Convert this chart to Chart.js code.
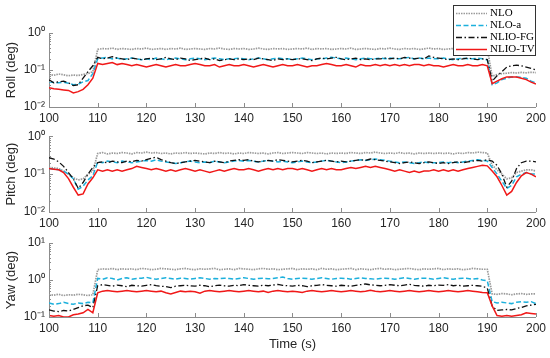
<!DOCTYPE html>
<html>
<head>
<meta charset="utf-8">
<script src="https://cdn.jsdelivr.net/npm/chart.js@4.4.0/dist/chart.umd.min.js"></script>
<style>
    body { margin: 0; background: #fff; width: 550px; height: 358px; overflow: hidden; position: relative; }
    canvas { position: absolute; left: 0; }
</style>
</head>
<body>
<canvas id="rollChart" width="550" height="125" style="top:0px"></canvas>
<canvas id="pitchChart" width="550" height="105" style="top:125px"></canvas>
<canvas id="yawChart" width="550" height="128" style="top:230px"></canvas>
<script>
// sample times (s), one per second
const times = [];
for (let t = 100; t <= 200; t++) times.push(t);

const seriesNames = ['NLO', 'NLO-a', 'NLIO-FG', 'NLIO-TV'];
const xTicks = [100, 110, 120, 130, 140, 150, 160, 170, 180, 190, 200];

// Roll (deg)
const rollNLO = [
    0.075, 0.072, 0.078, 0.074, 0.07, 0.073, 0.071, 0.076, 0.08, 0.09,
    0.36, 0.38, 0.37, 0.39, 0.36, 0.38, 0.37, 0.36, 0.38, 0.37,
    0.39, 0.36, 0.37, 0.38, 0.36, 0.38, 0.37, 0.39, 0.36, 0.37,
    0.38, 0.37, 0.36, 0.38, 0.37, 0.39, 0.37, 0.36, 0.38, 0.37,
    0.38, 0.36, 0.37, 0.39, 0.37, 0.36, 0.38, 0.37, 0.38, 0.36,
    0.37, 0.38, 0.37, 0.39, 0.36, 0.38, 0.37, 0.38, 0.36, 0.37,
    0.38, 0.37, 0.39, 0.36, 0.37, 0.38, 0.37, 0.36, 0.38, 0.37,
    0.39, 0.37, 0.36, 0.38, 0.37, 0.38, 0.36, 0.37, 0.39, 0.37,
    0.38, 0.36, 0.37, 0.38, 0.37, 0.36, 0.38, 0.37, 0.38, 0.36,
    0.37, 0.068, 0.075, 0.08, 0.082, 0.085, 0.083, 0.086, 0.084, 0.087, 0.085
];
const rollNLOa = [
    0.048, 0.046, 0.045, 0.047, 0.044, 0.04, 0.041, 0.048, 0.052, 0.08,
    0.2, 0.21, 0.22, 0.2, 0.21, 0.19, 0.2, 0.21, 0.2, 0.19,
    0.2, 0.19, 0.21, 0.2, 0.19, 0.2, 0.21, 0.2, 0.19, 0.2,
    0.21, 0.2, 0.19, 0.2, 0.21, 0.2, 0.19, 0.2, 0.2, 0.21,
    0.2, 0.19, 0.2, 0.21, 0.2, 0.19, 0.2, 0.21, 0.2, 0.2,
    0.19, 0.2, 0.21, 0.2, 0.19, 0.2, 0.2, 0.21, 0.22, 0.21,
    0.2, 0.21, 0.2, 0.19, 0.2, 0.21, 0.2, 0.2, 0.21, 0.2,
    0.21, 0.2, 0.2, 0.21, 0.22, 0.2, 0.21, 0.2, 0.21, 0.2,
    0.2, 0.21, 0.2, 0.19, 0.2, 0.21, 0.2, 0.2, 0.21, 0.2,
    0.19, 0.04, 0.045, 0.055, 0.06, 0.065, 0.065, 0.063, 0.06, 0.05, 0.045
];
const rollNLIOFG = [
    0.054, 0.045, 0.048, 0.05, 0.045, 0.038, 0.04, 0.06, 0.09, 0.13,
    0.22, 0.2, 0.21, 0.23, 0.21, 0.2, 0.19, 0.21, 0.2, 0.19,
    0.2, 0.21, 0.19, 0.2, 0.22, 0.2, 0.19, 0.21, 0.2, 0.18,
    0.19, 0.2, 0.21, 0.19, 0.2, 0.18, 0.19, 0.2, 0.19, 0.2,
    0.19, 0.2, 0.19, 0.21, 0.2, 0.19, 0.18, 0.2, 0.19, 0.2,
    0.19, 0.2, 0.2, 0.19, 0.18, 0.2, 0.21, 0.2, 0.21, 0.22,
    0.2, 0.19, 0.2, 0.21, 0.19, 0.2, 0.19, 0.2, 0.2, 0.21,
    0.2, 0.21, 0.2, 0.22, 0.21, 0.2, 0.21, 0.2, 0.24, 0.22,
    0.21, 0.2, 0.19, 0.2, 0.19, 0.2, 0.21, 0.2, 0.19, 0.2,
    0.19, 0.05, 0.07, 0.09, 0.12, 0.13, 0.135, 0.13, 0.12, 0.11, 0.1
];
const rollNLIOTV = [
    0.033, 0.031, 0.03, 0.029, 0.028, 0.024, 0.026, 0.03, 0.04, 0.06,
    0.15, 0.14, 0.15, 0.16, 0.14, 0.15, 0.14, 0.13, 0.14, 0.13,
    0.12, 0.13, 0.14, 0.13, 0.12, 0.13, 0.14, 0.13, 0.13, 0.14,
    0.15, 0.14, 0.13, 0.13, 0.14, 0.12, 0.13, 0.14, 0.13, 0.13,
    0.14, 0.13, 0.12, 0.13, 0.14, 0.13, 0.12, 0.13, 0.14, 0.13,
    0.13, 0.14, 0.13, 0.12, 0.13, 0.13, 0.14, 0.15, 0.14, 0.13,
    0.13, 0.14, 0.13, 0.12, 0.14, 0.13, 0.13, 0.14, 0.13, 0.14,
    0.13, 0.14, 0.13, 0.14, 0.13, 0.14, 0.14, 0.13, 0.14, 0.13,
    0.13, 0.12, 0.13, 0.14, 0.13, 0.13, 0.14, 0.13, 0.13, 0.14,
    0.13, 0.043, 0.05, 0.058, 0.065, 0.065, 0.065, 0.06, 0.055, 0.047, 0.042
];

// Pitch (deg)
const pitchNLO = [
    0.15, 0.145, 0.14, 0.12, 0.1, 0.08, 0.07, 0.075, 0.1, 0.12,
    0.35, 0.37, 0.34, 0.36, 0.35, 0.37, 0.36, 0.34, 0.37, 0.36,
    0.38, 0.36, 0.37, 0.35, 0.36, 0.34, 0.36, 0.35, 0.37, 0.35,
    0.36, 0.35, 0.34, 0.36, 0.35, 0.37, 0.35, 0.36, 0.34, 0.36,
    0.35, 0.37, 0.36, 0.35, 0.36, 0.34, 0.36, 0.37, 0.35, 0.36,
    0.37, 0.36, 0.35, 0.37, 0.36, 0.35, 0.36, 0.34, 0.36, 0.35,
    0.36, 0.35, 0.37, 0.36, 0.35, 0.37, 0.36, 0.38, 0.36, 0.35,
    0.36, 0.35, 0.37, 0.35, 0.36, 0.34, 0.36, 0.35, 0.36, 0.35,
    0.36, 0.35, 0.36, 0.34, 0.36, 0.35, 0.37, 0.36, 0.38, 0.37,
    0.36, 0.17, 0.13, 0.1, 0.075, 0.08, 0.11, 0.12, 0.13, 0.13, 0.12
];
const pitchNLOa = [
    0.14, 0.135, 0.13, 0.12, 0.1, 0.075, 0.04, 0.048, 0.07, 0.09,
    0.21, 0.2, 0.22, 0.21, 0.2, 0.22, 0.21, 0.2, 0.21, 0.22,
    0.23, 0.22, 0.24, 0.22, 0.21, 0.2, 0.19, 0.2, 0.21, 0.22,
    0.21, 0.2, 0.21, 0.2, 0.22, 0.21, 0.2, 0.21, 0.22, 0.23,
    0.22, 0.23, 0.22, 0.21, 0.22, 0.23, 0.22, 0.21, 0.22, 0.21,
    0.2, 0.21, 0.22, 0.21, 0.2, 0.21, 0.22, 0.23, 0.22, 0.21,
    0.2, 0.21, 0.22, 0.23, 0.24, 0.23, 0.24, 0.25, 0.24, 0.23,
    0.22, 0.21, 0.2, 0.21, 0.2, 0.19, 0.2, 0.21, 0.2, 0.2,
    0.2, 0.21, 0.2, 0.21, 0.2, 0.21, 0.22, 0.23, 0.24, 0.23,
    0.22, 0.15, 0.1, 0.065, 0.042, 0.05, 0.085, 0.1, 0.11, 0.1, 0.1
];
const pitchNLIOFG = [
    0.27, 0.25, 0.21, 0.16, 0.11, 0.075, 0.042, 0.06, 0.1, 0.15,
    0.2, 0.21, 0.2, 0.22, 0.21, 0.2, 0.22, 0.21, 0.23, 0.22,
    0.24, 0.26, 0.28, 0.24, 0.22, 0.2, 0.19, 0.2, 0.21, 0.22,
    0.23, 0.22, 0.21, 0.2, 0.22, 0.21, 0.2, 0.22, 0.23, 0.24,
    0.23, 0.24, 0.22, 0.21, 0.22, 0.23, 0.22, 0.24, 0.23, 0.22,
    0.21, 0.22, 0.23, 0.22, 0.2, 0.21, 0.22, 0.23, 0.22, 0.21,
    0.22, 0.21, 0.22, 0.23, 0.24, 0.23, 0.25, 0.24, 0.23, 0.22,
    0.21, 0.2, 0.19, 0.2, 0.21, 0.2, 0.19, 0.2, 0.21, 0.2,
    0.19, 0.2, 0.19, 0.2, 0.21, 0.2, 0.21, 0.22, 0.23, 0.22,
    0.24, 0.22, 0.17, 0.1, 0.045, 0.065, 0.14, 0.2, 0.22, 0.22, 0.21
];
const pitchNLIOTV = [
    0.14, 0.135, 0.13, 0.11, 0.076, 0.045, 0.028, 0.03, 0.055, 0.08,
    0.13, 0.12, 0.13, 0.12, 0.13, 0.12, 0.13, 0.14, 0.16, 0.15,
    0.14, 0.13, 0.14, 0.13, 0.12, 0.13, 0.12, 0.13, 0.14, 0.13,
    0.12, 0.13, 0.12, 0.11, 0.12, 0.13, 0.12, 0.13, 0.14, 0.13,
    0.13, 0.14, 0.13, 0.12, 0.13, 0.14, 0.13, 0.14, 0.13, 0.14,
    0.14, 0.13, 0.14, 0.13, 0.12, 0.13, 0.14, 0.13, 0.14, 0.13,
    0.13, 0.14, 0.15, 0.14, 0.15, 0.16, 0.15, 0.16, 0.15, 0.14,
    0.13, 0.12, 0.13, 0.12, 0.11, 0.12, 0.11, 0.12, 0.12, 0.13,
    0.12, 0.13, 0.12, 0.13, 0.12, 0.13, 0.14, 0.15, 0.16, 0.17,
    0.165, 0.12, 0.085, 0.05, 0.028, 0.035, 0.06, 0.09, 0.11, 0.1, 0.085
];

// Yaw (deg)
const yawNLO = [
    0.4, 0.39, 0.41, 0.38, 0.4, 0.39, 0.41, 0.4, 0.38, 0.4,
    1.9, 2.0, 1.95, 2.05, 1.9, 2.0, 1.95, 2.0, 1.9, 2.05,
    2.0, 1.9, 1.95, 2.05, 2.0, 1.95, 1.9, 2.0, 2.05, 1.95,
    1.9, 2.0, 1.95, 2.0, 2.05, 1.9, 1.95, 2.0, 1.9, 2.05,
    2.0, 1.95, 1.9, 2.0, 2.05, 1.95, 2.0, 1.9, 1.95, 2.0,
    2.05, 1.9, 2.0, 1.95, 2.0, 1.9, 2.05, 1.95, 2.0, 1.9,
    1.95, 2.0, 2.05, 1.9, 2.0, 1.95, 1.9, 2.0, 2.05, 1.95,
    2.0, 1.9, 1.95, 2.0, 2.05, 1.95, 1.9, 2.0, 1.95, 2.0,
    2.05, 1.9, 2.0, 1.95, 2.0, 1.9, 1.95, 2.05, 2.0, 1.95,
    1.95, 0.42, 0.41, 0.43, 0.42, 0.4, 0.42, 0.43, 0.41, 0.42, 0.42
];
const yawNLOa = [
    0.24, 0.22, 0.23, 0.25, 0.23, 0.22, 0.24, 0.23, 0.25, 0.24,
    1.1, 1.05, 1.15, 1.1, 1.0, 1.1, 1.15, 1.05, 1.1, 1.12,
    1.18, 1.1, 1.05, 1.1, 1.15, 1.1, 1.05, 1.12, 1.1, 1.05,
    1.1, 1.15, 1.1, 1.05, 1.1, 1.08, 1.12, 1.1, 1.05, 1.1,
    1.15, 1.1, 1.05, 1.1, 1.12, 1.08, 1.1, 1.15, 1.2, 1.1,
    1.05, 1.1, 1.12, 1.1, 1.05, 1.1, 1.15, 1.1, 1.05, 1.1,
    1.12, 1.1, 1.05, 1.1, 1.15, 1.1, 1.08, 1.05, 1.1, 1.12,
    1.1, 1.05, 1.1, 1.15, 1.1, 1.05, 1.1, 1.12, 1.1, 1.05,
    1.1, 1.15, 1.1, 1.05, 1.1, 1.12, 1.1, 1.05, 1.1, 1.0,
    0.95, 0.26, 0.24, 0.25, 0.24, 0.23, 0.25, 0.26, 0.25, 0.26, 0.23
];
const yawNLIOFG = [
    0.155, 0.145, 0.14, 0.15, 0.145, 0.16, 0.18, 0.2, 0.21, 0.18,
    0.7, 0.75, 0.72, 0.68, 0.73, 0.7, 0.66, 0.72, 0.7, 0.68,
    0.72, 0.75, 0.7, 0.68, 0.66, 0.62, 0.68, 0.7, 0.72, 0.7,
    0.68, 0.72, 0.7, 0.66, 0.7, 0.73, 0.7, 0.68, 0.72, 0.7,
    0.75, 0.72, 0.7, 0.68, 0.72, 0.7, 0.73, 0.76, 0.72, 0.7,
    0.68, 0.72, 0.7, 0.66, 0.7, 0.72, 0.75, 0.72, 0.7, 0.68,
    0.72, 0.7, 0.68, 0.72, 0.75, 0.78, 0.74, 0.72, 0.7, 0.72,
    0.75, 0.72, 0.7, 0.73, 0.76, 0.72, 0.7, 0.68, 0.72, 0.7,
    0.73, 0.72, 0.75, 0.7, 0.72, 0.68, 0.7, 0.72, 0.7, 0.68,
    0.6, 0.2, 0.15, 0.155, 0.16, 0.155, 0.17, 0.18, 0.2, 0.21, 0.22
];
const yawNLIOTV = [
    0.11, 0.105, 0.11, 0.1, 0.1, 0.115, 0.12, 0.13, 0.16, 0.13,
    0.45, 0.5, 0.52, 0.5, 0.48, 0.5, 0.52, 0.5, 0.48, 0.5,
    0.52, 0.5, 0.48, 0.5, 0.45, 0.42, 0.46, 0.5, 0.48, 0.5,
    0.48, 0.44, 0.5, 0.52, 0.5, 0.48, 0.5, 0.52, 0.5, 0.48,
    0.5, 0.52, 0.5, 0.48, 0.5, 0.46, 0.5, 0.52, 0.5, 0.48,
    0.5, 0.48, 0.46, 0.5, 0.52, 0.5, 0.48, 0.5, 0.52, 0.5,
    0.48, 0.5, 0.52, 0.5, 0.48, 0.5, 0.53, 0.5, 0.48, 0.5,
    0.52, 0.5, 0.48, 0.5, 0.52, 0.5, 0.48, 0.5, 0.52, 0.5,
    0.48, 0.5, 0.52, 0.5, 0.48, 0.5, 0.52, 0.5, 0.48, 0.46,
    0.45, 0.2, 0.11, 0.105, 0.11, 0.105, 0.11, 0.115, 0.13, 0.125, 0.12
];

const lineStyles = [
    { color: '#9a9a9a', dash: [1.5, 1], width: 1.7, order: 4 },
    { color: '#1cb0dc', dash: [5, 2.5], width: 1.5, order: 3 },
    { color: '#111111', dash: [6, 2.5, 1.5, 2.5], width: 1.3, order: 2 },
    { color: '#f01818', dash: [], width: 1.5, order: 1 }
];

const supMap = { '-': '\u207B', '0': '\u2070', '1': '\u00B9', '2': '\u00B2', '3': '\u00B3' };
const powLabel = v => {
    const e = Math.log10(v);
    const r = Math.round(e);
    if (Math.abs(e - r) > 1e-6) return '';
    return '10' + String(r).split('').map(c => supMap[c]).join('');
};

const FONT = "'Liberation Sans', Arial, sans-serif";

// inward tick marks, like the original plot
const innerTicks = {
    id: 'innerTicks',
    afterDatasetsDraw(chart) {
        const { ctx, chartArea: a, scales: { x, y } } = chart;
        ctx.save();
        ctx.strokeStyle = '#8c8c8c';
        ctx.lineWidth = 1;
        ctx.beginPath();
        xTicks.forEach(v => {
            const px = Math.round(x.getPixelForValue(v)) + 0.5;
            ctx.moveTo(px, a.bottom);
            ctx.lineTo(px, a.bottom - 4);
        });
        const e0 = Math.round(Math.log10(y.min));
        const e1 = Math.round(Math.log10(y.max));
        for (let e = e0; e <= e1; e++) {
            for (let k = 1; k <= 9; k++) {
                const v = k * Math.pow(10, e);
                if (v > y.max * 1.0001) break;
                const py = Math.round(y.getPixelForValue(v)) + 0.5;
                ctx.moveTo(a.left, py);
                ctx.lineTo(a.left + (k === 1 ? 4 : 2), py);
            }
        }
        ctx.stroke();
        ctx.restore();
    }
};

// legend box drawn inside the top panel
const boxLegend = {
    id: 'boxLegend',
    afterDraw(chart) {
        const ctx = chart.ctx;
        const left = 453, top = 5, w = 82, h = 50;
        ctx.save();
        ctx.fillStyle = '#fff';
        ctx.fillRect(left, top, w, h);
        ctx.strokeStyle = '#333';
        ctx.lineWidth = 1;
        ctx.strokeRect(left + 0.5, top + 0.5, w, h);
        ctx.font = "11px 'Liberation Serif', 'Times New Roman', serif";
        ctx.textBaseline = 'middle';
        chart.data.datasets.forEach((ds, i) => {
            const yy = top + 8 + i * 12 + 0.5;
            ctx.strokeStyle = ds.borderColor;
            ctx.lineWidth = ds.borderWidth;
            ctx.setLineDash(ds.borderDash);
            ctx.beginPath();
            ctx.moveTo(left + 3, yy);
            ctx.lineTo(left + 34, yy);
            ctx.stroke();
            ctx.setLineDash([]);
            ctx.fillStyle = '#000';
            ctx.fillText(ds.label, left + 37, yy);
        });
        ctx.restore();
    }
};

function makeChart(id, title, series, yMin, yMax, padTop, xHeight, xTitle, extraPlugins) {
    const ctx = document.getElementById(id).getContext('2d');
    return new Chart(ctx, {
        type: 'line',
        data: {
            datasets: series.map((arr, i) => ({
                label: seriesNames[i],
                data: times.map((t, j) => ({ x: t, y: arr[j] })),
                borderColor: lineStyles[i].color,
                borderDash: lineStyles[i].dash,
                borderWidth: lineStyles[i].width,
                order: lineStyles[i].order,
                pointRadius: 0,
                tension: 0,
                fill: false
            }))
        },
        options: {
            responsive: false,
            animation: false,
            events: [],
            layout: { padding: { left: 0, right: 14, top: padTop, bottom: 0 } },
            plugins: { legend: { display: false }, tooltip: { enabled: false } },
            scales: {
                x: {
                    type: 'linear',
                    min: 100,
                    max: 200,
                    afterFit: s => { s.height = xHeight; },
                    grid: { display: false, drawTicks: false },
                    border: { display: true, color: '#8c8c8c', width: 1 },
                    ticks: {
                        stepSize: 10,
                        padding: 4,
                        maxRotation: 0,
                        color: '#262626',
                        font: { family: FONT, size: 12 }
                    },
                    title: {
                        display: !!xTitle,
                        text: xTitle || '',
                        color: '#262626',
                        font: { family: FONT, size: 13 },
                        padding: { top: 0, bottom: 6 }
                    }
                },
                y: {
                    type: 'logarithmic',
                    min: yMin,
                    max: yMax,
                    afterFit: s => { s.width = 49; },
                    grid: { display: false, drawTicks: false },
                    border: { display: true, color: '#8c8c8c', width: 1 },
                    ticks: {
                        autoSkip: false,
                        padding: 4,
                        color: '#262626',
                        font: { family: FONT, size: 12 },
                        callback: v => powLabel(v)
                    },
                    title: {
                        display: true,
                        text: title,
                        color: '#262626',
                        font: { family: FONT, size: 13 },
                        padding: { top: 4, bottom: 0 }
                    }
                }
            }
        },
        plugins: [innerTicks].concat(extraPlugins || [])
    });
}

makeChart('rollChart', 'Roll (deg)', [rollNLO, rollNLOa, rollNLIOFG, rollNLIOTV], 0.01, 1, 33, 18, null, [boxLegend]);
makeChart('pitchChart', 'Pitch (deg)', [pitchNLO, pitchNLOa, pitchNLIOFG, pitchNLIOTV], 0.01, 1, 10, 18, null);
makeChart('yawChart', 'Yaw (deg)', [yawNLO, yawNLOa, yawNLIOFG, yawNLIOTV], 0.1, 10, 13, 41, 'Time (s)');
</script>
</body>
</html>
